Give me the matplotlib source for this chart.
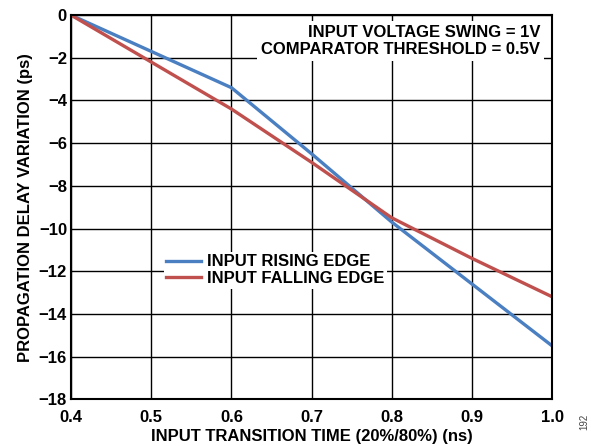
import numpy as np
import matplotlib.pyplot as plt

plt.rcParams['font.family'] = ['Liberation Sans', 'DejaVu Sans']
plt.rcParams['font.weight'] = 'bold'

x = [0.4, 0.5, 0.6, 0.7, 0.8, 0.9, 1.0]
rising = [0, -1.7, -3.4, -6.5, -9.7, -12.6, -15.5]
falling = [0, -2.2, -4.4, -6.9, -9.5, -11.4, -13.2]

fig = plt.figure(figsize=(5.93, 4.46), dpi=100)
ax = fig.add_axes([0.12, 0.105, 0.811, 0.861])

ax.plot(x, rising, color='#4a7fc1', lw=2.4, label='INPUT RISING EDGE')
ax.plot(x, falling, color='#c0504d', lw=2.4, label='INPUT FALLING EDGE')

ax.set_xlim(0.4, 1.0)
ax.set_ylim(-18, 0)
ax.set_xticks(np.arange(0.4, 1.01, 0.1))
ax.set_xticklabels(['0.4', '0.5', '0.6', '0.7', '0.8', '0.9', '1.0'])
ax.set_yticks(range(-18, 1, 2))
ax.set_yticklabels([str(v).replace('-', '\u2212') for v in range(-18, 1, 2)])
ax.tick_params(length=0, labelsize=12)
ax.tick_params(axis='x', pad=8)
ax.tick_params(axis='y', pad=3)
ax.grid(True, color='black', lw=1)
for s in ax.spines.values():
    s.set_linewidth(1.5)

ax.set_xlabel('INPUT TRANSITION TIME (20%/80%) (ns)', fontsize=12, fontweight='bold',
              labelpad=3)
ax.set_ylabel('PROPAGATION DELAY VARIATION (ps)', fontsize=12, fontweight='bold',
              labelpad=4)

leg = ax.legend(loc='upper left', bbox_to_anchor=(0.175, 0.405), fontsize=12,
                frameon=True, fancybox=False, edgecolor='none', framealpha=1,
                handlelength=2.1, handletextpad=0.35, borderpad=0.15,
                labelspacing=0.1)
for t in leg.get_texts():
    t.set_fontweight('bold')

ax.text(0.975, 0.975, 'INPUT VOLTAGE SWING = 1V\nCOMPARATOR THRESHOLD = 0.5V',
        transform=ax.transAxes, ha='right', va='top', fontsize=12,
        fontweight='bold', linespacing=1.15,
        bbox=dict(facecolor='white', edgecolor='none', pad=3))

fig.text(0.985, 0.035, '192', rotation=90, fontsize=7, fontweight='normal',
         color='#444444', ha='center', va='bottom')

fig.savefig('out.png', dpi=100)
